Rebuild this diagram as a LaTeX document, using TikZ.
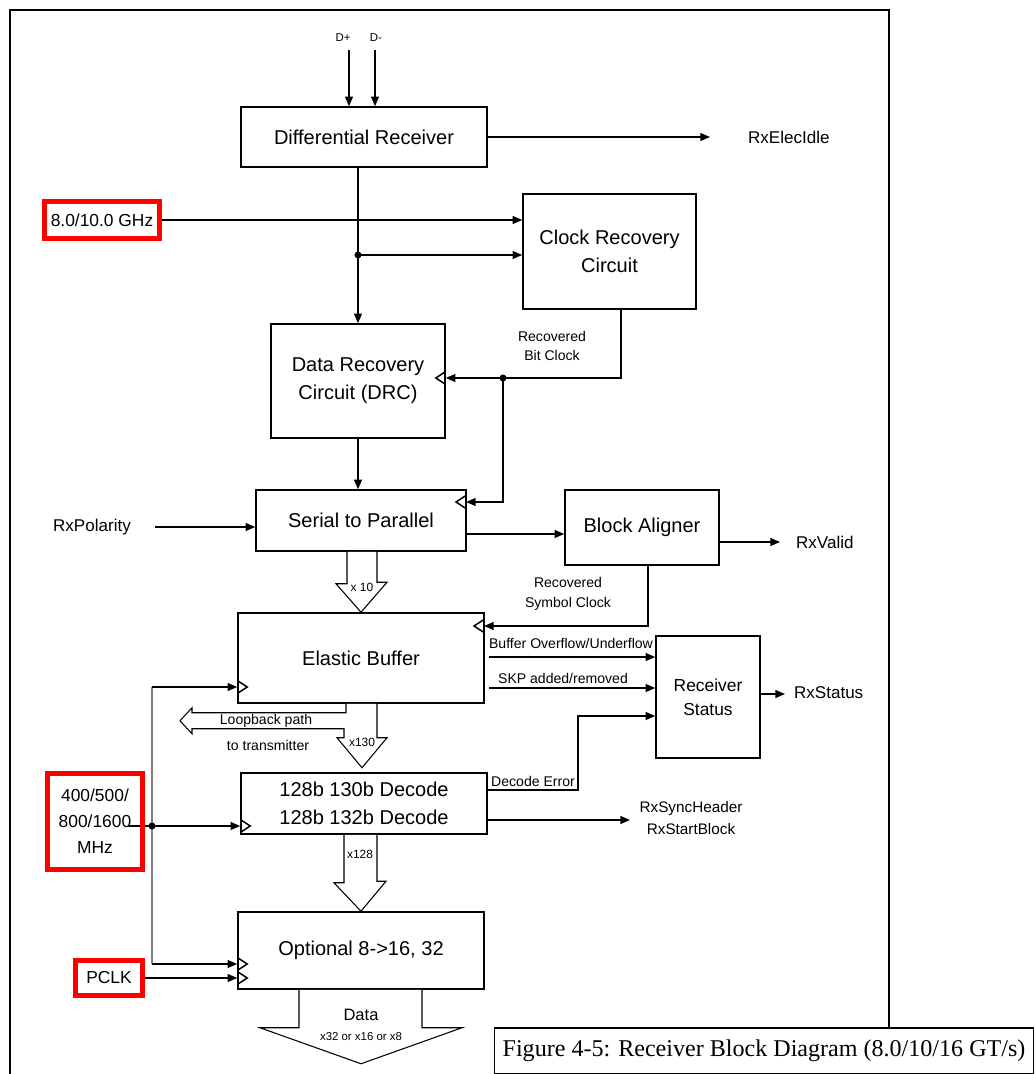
\documentclass[tikz,border=0pt]{standalone}
\usepackage{fontspec}
\setmainfont{Liberation Sans}
\newfontfamily\capfont{Liberation Serif}
\usetikzlibrary{positioning, arrows.meta, calc}

\def\pu{0.02cm}
\newcommand{\clkr}[1]{\draw[wire] (#1) ++(0,-6.5) -- ++(10,6.5) -- ++(-10,6.5);}
\newcommand{\clkl}[1]{\draw[wire] (#1) ++(0,-6.5) -- ++(-10,6.5) -- ++(10,6.5);}

\tikzset{
  sz/.style 2 args={minimum width=#1*\pu, minimum height=#2*\pu},
  blk/.style={draw, line width=0.85pt, align=center, inner sep=0pt,
    font=\fontsize{11.4}{15.9}\selectfont},
  redbox/.style={draw=red, line width=2.8pt, align=center, inner sep=0pt,
    font=\fontsize{9.9}{14.7}\selectfont},
  lbl/.style={align=center, inner sep=1pt, font=\fontsize{9.7}{13.6}\selectfont},
  small/.style={align=center, inner sep=1pt, font=\fontsize{8}{11}\selectfont},
  tiny/.style={align=center, inner sep=0pt, font=\fontsize{6.8}{8}\selectfont},
  wire/.style={line width=0.85pt},
  arr/.style={wire, -{Triangle[length=5.5pt,width=4.5pt]}},
  fat/.style={draw, fill=white, line width=0.6pt},
}

\begin{document}
\begin{tikzpicture}[x=0.02cm, y=-0.02cm]
\useasboundingbox (0,0) rectangle (1035,1074);
\draw[wire] (10,1074) -- (10,10) -- (889,10) -- (889,1028);

% blocks
\node[blk, sz={246}{60}] (dr) at (364,137) {Differential Receiver};
\node[blk, sz={173}{115}] (crc) at (609.5,251.5) {Clock Recovery\\Circuit};
\node[blk, sz={174}{114}] (drc) at (358,381) {Data Recovery\\Circuit (DRC)};
\node[blk, sz={210}{61}] (s2p) at (361,520.5) {Serial to Parallel};
\node[blk, sz={154}{75}] (ba) at (642,527.5) {Block Aligner};
\node[blk, sz={246}{90}] (eb) at (361,658) {Elastic Buffer};
\node[blk, sz={104}{122}, font=\fontsize{9.9}{13.6}\selectfont] (rs) at (708,697) {Receiver\\Status};
\node[blk, sz={246}{61}] (dec) at (364,803.5) {128b 130b Decode\\128b 132b Decode};
\node[blk, sz={246}{77}] (opt) at (361,950.5) {Optional 8->16, 32};

% labels
\node[tiny, font=\fontsize{6.5}{8}\selectfont] (dplus) at (343,38) {D+};
\node[tiny, font=\fontsize{6.5}{8}\selectfont] (dminus) at (376,38) {D-};
\node[lbl, anchor=west] (elecidle) at (746,137) {RxElecIdle};
\node[lbl] (rxpol) at (92,527) {RxPolarity};
\node[lbl, anchor=west] (rxvalid) at (794,542) {RxValid};
\node[lbl, anchor=west] (rxstatus) at (792,693) {RxStatus};
\node[small, font=\fontsize{8.7}{12}\selectfont] (sync) at (691,818) {RxSyncHeader\\RxStartBlock};
\node[small] (bitclk) at (552,346) {Recovered\\Bit Clock};
\node[small] (symclk) at (568,594) {Recovered\\Symbol Clock};
\node[small] (bufov) at (571,643) {Buffer Overflow/Underflow};
\node[small] (skp) at (563,678) {SKP added/removed};
\node[small] (decerr) at (533,781) {Decode Error};

% D+ / D-
\coordinate (dpin) at (349,50);
\coordinate (dmin) at (375,50);
\draw[arr] (dpin) -- (dpin |- dr.north);
\draw[arr] (dmin) -- (dmin |- dr.north);
\coordinate (elecend) at (710,137);
\draw[arr] (dr.east) -- (elecend);

% clock recovery
\coordinate (split) at (358,255);
\draw[arr] (split |- dr.south) -- (drc.north);
\fill (split) circle (2pt);
\draw[arr] (split) -- (split -| crc.west);

% recovered bit clock
\coordinate (bitdot) at (503,378);
\coordinate (crcout) at (621,309);
\coordinate (s2pclk) at (466,502);
\draw[arr] (crcout) |- (bitdot -| drc.east);
\fill (bitdot) circle (2pt);
\draw[arr] (bitdot) |- (s2pclk);
\draw[arr] (drc.south) -- (drc.south |- s2p.north);

% serial to parallel
\coordinate (polstart) at (155,527);
\draw[arr] (polstart) -- (polstart -| s2p.west);
\coordinate (s2pout) at (466,534);
\draw[arr] (s2pout) -- (s2pout -| ba.west);
\coordinate (validend) at (780,542);
\draw[arr] (validend -| ba.east) -- (validend);

% recovered symbol clock
\coordinate (baout) at (648,565);
\coordinate (ebclk) at (484,626);
\draw[arr] (baout) |- (ebclk);

% receiver status inputs
\coordinate (ovstart) at (489,657);
\coordinate (skpstart) at (489,688);
\draw[arr] (ovstart) -- (ovstart -| rs.west);
\draw[arr] (skpstart) -- (skpstart -| rs.west);
\coordinate (decerrout) at (487,790);
\coordinate (errbend) at (578,716);
\draw[arr] (decerrout) -| (errbend) -- (errbend -| rs.west);
\coordinate (statend) at (785,694);
\draw[arr] (statend -| rs.east) -- (statend);
\coordinate (syncend) at (630,820);
\draw[arr] (syncend -| dec.east) -- (syncend);

% parallel clock
\coordinate (mhzin) at (128,826);
\coordinate (mhzdot) at (152,826);
\coordinate (bustop) at (152,687);
\coordinate (busbot) at (152,964);
\draw[wire, gray] (bustop) -- (busbot);
\draw[arr] (bustop) -- (bustop -| eb.west);
\draw[arr] (busbot) -- (busbot -| opt.west);
\draw[wire] (mhzin) -- (mhzdot);
\draw[arr] (mhzdot) -- (mhzdot -| dec.west);
\fill (mhzdot) circle (2pt);

% red boxes
\node[redbox, sz={115}{37}] (ghz) at (102,220) {8.0/10.0 GHz};
\node[redbox, sz={95}{96}] (mhz) at (95,821.5) {400/500/\\800/1600\\MHz};
\node[redbox, sz={67}{35}] (pclk) at (109,978) {PCLK};
\draw[arr] (ghz.east) -- (ghz.east -| crc.west);
\draw[arr] (pclk.east) -- (pclk.east -| opt.west);

% wide buses
\draw[fat] ([xshift=-14*\pu]s2p.south) -- ++(0,32) -- ++(-11,0) -- (eb.north)
  -- ++(26,-30) -- ++(-10,0) -- ([xshift=16*\pu]s2p.south);
\draw[fat] ([xshift=-15*\pu]eb.south) -- ++(0,9) -- ++(-154,0) -- ++(0,-5)
  -- ++(-12,13) -- ++(12,13) -- ++(0,-5) -- ++(152,0) -- ++(0,9) -- ++(-7,0)
  -- ++(25,30) -- ++(25,-30) -- ++(-10,0) -- ([xshift=16*\pu]eb.south);
\draw[fat] ([xshift=-20*\pu]dec.south) -- ++(0,48) -- ++(-10,0) -- (opt.north)
  -- ++(25,-30) -- ++(-9,0) -- ([xshift=13*\pu]dec.south);
\draw[fat] ([xshift=-62*\pu]opt.south) -- ++(0,38) -- ++(-39,0) -- ++(101,36)
  -- ++(101,-36) -- ++(-40,0) -- ([xshift=61*\pu]opt.south);
\node[tiny] (x10) at (362,587) {x 10};
\node[small] (loop1) at (266,721) {Loopback path};
\node[small] (loop2) at (268,745) {to transmitter};
\node[tiny] (x130) at (362,742) {x130};
\node[tiny] (x128) at (360,854) {x128};
\node[lbl, font=\fontsize{9.4}{11}\selectfont] (data) at (361,1015) {Data};
\node[tiny, font=\fontsize{6.5}{8}\selectfont] (datawidth) at (361,1037) {x32 or x16 or x8};

% clock inputs
\clkl{bitdot -| drc.east}
\clkl{s2pclk}
\clkl{ebclk}
\clkr{bustop -| eb.west}
\clkr{mhzdot -| dec.west}
\clkr{busbot -| opt.west}
\clkr{pclk.east -| opt.west}

% caption
\node[draw, line width=0.85pt, sz={539}{46}, inner sep=0pt,
  font=\capfont\fontsize{13.7}{16}\selectfont] (cap) at (764,1051)
  {Figure 4-5: Receiver Block Diagram (8.0/10/16 GT/s)};
\end{tikzpicture}
\end{document}
